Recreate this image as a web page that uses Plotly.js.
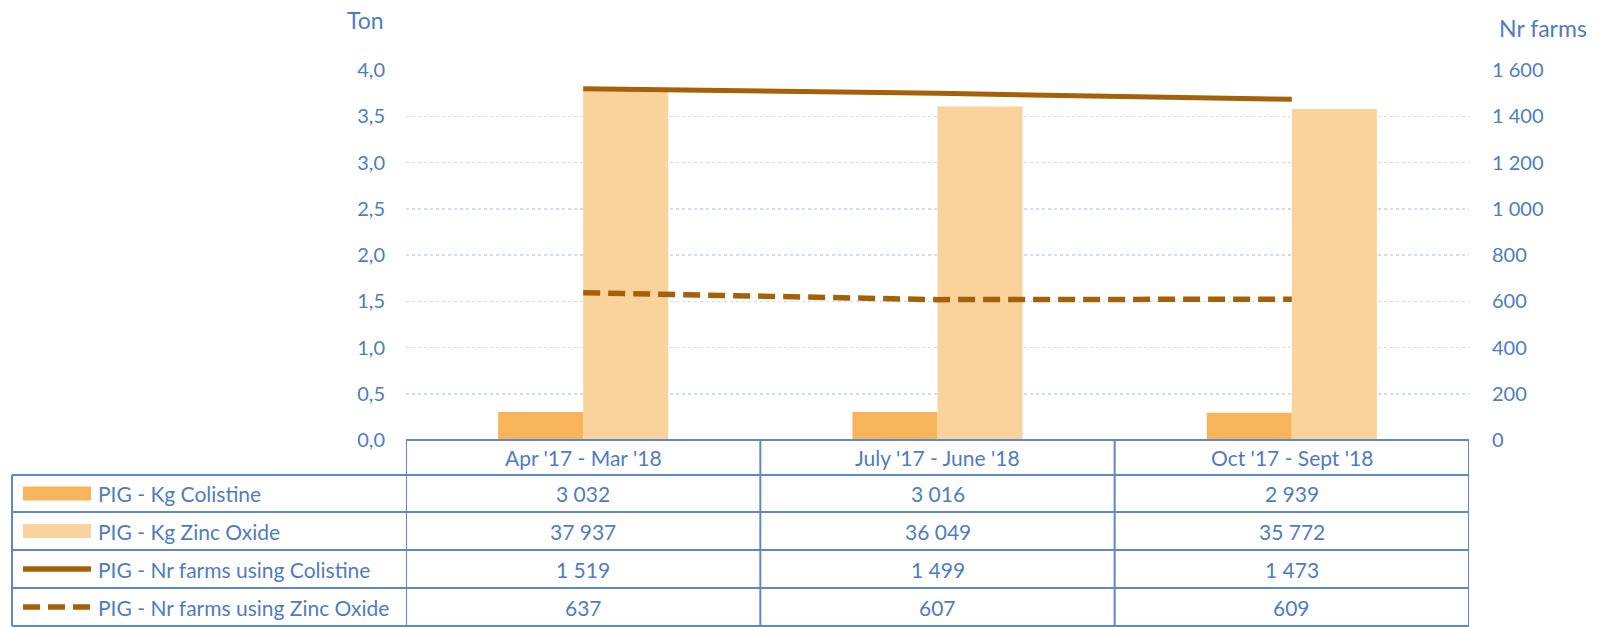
<!DOCTYPE html>
<html>
<head>
<meta charset="utf-8">
<script src="https://cdn.plot.ly/plotly-3.0.1.min.js"></script>
<style>
html,body{margin:0;padding:0;background:#fff;}
#chart{width:1598px;height:627px;}
</style>
</head>
<body>
<div id="chart"></div>
<script>
// ---- data ----
const categories = ["Apr '17 - Mar '18", "July '17 - June '18", "Oct '17 - Sept '18"];
const kgColistine = [3032, 3016, 2939];
const kgZincOxide = [37937, 36049, 35772];
const farmsColistine = [1519, 1499, 1473];
const farmsZincOxide = [637, 607, 609];
const seriesNames = ["PIG - Kg Colistine", "PIG - Kg Zinc Oxide", "PIG - Nr farms using Colistine", "PIG - Nr farms using Zinc Oxide"];
const leftTickVals = [0, 0.5, 1, 1.5, 2, 2.5, 3, 3.5, 4];
const rightTickVals = [0, 200, 400, 600, 800, 1000, 1200, 1400, 1600];
const KG_PER_AXIS_UNIT = 10000; // bar heights as drawn against the "Ton" axis

// ---- style ----
const W = 1598, H = 627;
const M = {l: 406, r: 129, t: 70, b: 187};
const PW = W - M.l - M.r, PH = H - M.t - M.b;
const blue = '#4F7CC1';
const border = '#5E88C8';
const cOrange = '#F8B45A';
const cPeach = '#FAD29C';
const cBrown = '#A5610A';
const FONT = 'Lato, "Open Sans", sans-serif';
const TFS = 21;

const xIdx = categories.map((_, i) => i);
function fmt(n){ return String(n).replace(/\B(?=(\d{3})+(?!\d))/g, ' '); }
function py(p){ return (M.t + PH - p) / PH; }   // pixel y -> paper y
function px(p){ return (p - M.l) / PW; }         // pixel x -> paper x

const traces = [
  {type:'bar', x:xIdx, y:kgColistine.map(v => v / KG_PER_AXIS_UNIT), name:seriesNames[0],
   marker:{color:cOrange}, yaxis:'y', offsetgroup:'a', hoverinfo:'skip'},
  {type:'bar', x:xIdx, y:kgZincOxide.map(v => v / KG_PER_AXIS_UNIT), name:seriesNames[1],
   marker:{color:cPeach}, yaxis:'y', offsetgroup:'b', hoverinfo:'skip'},
  {type:'scatter', mode:'lines', x:xIdx, y:farmsColistine, name:seriesNames[2], yaxis:'y2',
   line:{color:cBrown, width:5}, hoverinfo:'skip'},
  {type:'scatter', mode:'lines', x:xIdx, y:farmsZincOxide, name:seriesNames[3], yaxis:'y2',
   line:{color:cBrown, width:5.5, dash:'17px,8px'}, hoverinfo:'skip'}
];

// ---- data table (shapes + annotations) ----
const rowLines = [475, 512, 550, 588, 626];
const tableLeft = 12;
const shapes = [];
const annotations = [];
const lw = 2;
shapes.push({type:'line', xref:'x', yref:'paper', x0:-0.5, x1:2.5, y0:0, y1:0, line:{color:border, width:lw}});
rowLines.forEach(r => shapes.push({type:'line', xref:'paper', yref:'paper', x0:px(tableLeft), x1:px(M.l + PW), y0:py(r), y1:py(r), line:{color:border, width:lw}}));
[-0.5, 0.5, 1.5, 2.5].forEach(b => shapes.push({type:'line', xref:'x', yref:'paper', x0:b, x1:b, y0:0, y1:py(626), line:{color:border, width:lw}}));
shapes.push({type:'line', xref:'paper', yref:'paper', x0:px(tableLeft), x1:px(tableLeft), y0:py(475), y1:py(626), line:{color:border, width:lw}});

categories.forEach((c, i) => annotations.push({xref:'x', yref:'paper', x:i, y:py((440 + 475) / 2), text:c, showarrow:false,
  xanchor:'center', yanchor:'middle', font:{family:FONT, size:TFS, color:blue}}));

const rows = [kgColistine, kgZincOxide, farmsColistine, farmsZincOxide];
rows.forEach((vals, r) => {
  const top = rowLines[r], bot = rowLines[r + 1];
  const mid = (top + bot) / 2;
  vals.forEach((v, i) => annotations.push({xref:'x', yref:'paper', x:i, y:py(mid), text:fmt(v), showarrow:false,
    xanchor:'center', yanchor:'middle', font:{family:FONT, size:TFS, color:blue}}));
  annotations.push({xref:'paper', yref:'paper', x:px(96), y:py(mid), text:seriesNames[r], showarrow:false,
    xanchor:'left', yanchor:'middle', font:{family:FONT, size:TFS, color:blue}});
  if (r === 0 || r === 1) {
    shapes.push({type:'rect', xref:'paper', yref:'paper', x0:px(23), x1:px(91), y0:py(mid - 7), y1:py(mid + 7),
      fillcolor: r === 0 ? cOrange : cPeach, line:{width:0}});
  } else {
    shapes.push({type:'line', xref:'paper', yref:'paper', x0:px(23), x1:px(91), y0:py(mid), y1:py(mid),
      line:{color:cBrown, width:5.5, dash: r === 3 ? '17px,8px' : 'solid'}});
  }
});

annotations.push({xref:'paper', yref:'paper', x:px(386), y:py(20), text:'Ton', showarrow:false, xanchor:'right', yanchor:'middle',
  font:{family:FONT, size:23, color:blue}});
annotations.push({xref:'paper', yref:'paper', x:px(1497), y:py(28), text:'Nr farms', showarrow:false, xanchor:'left', yanchor:'middle',
  font:{family:FONT, size:23, color:blue}});

const layout = {
  width: W, height: H,
  margin: M,
  paper_bgcolor:'#fff', plot_bgcolor:'#fff',
  showlegend:false,
  separators: ', ',
  barmode:'group',
  bargap:0.52, bargroupgap:0,
  font:{family:FONT, color:blue},
  xaxis:{range:[-0.5, 2.5], showticklabels:false, showgrid:false, zeroline:false, showline:false, fixedrange:true},
  yaxis:{range:[0, 4], tickvals:leftTickVals, tickformat:'.1f', showgrid:true, gridcolor:'#D3DCEC', griddash:'dot', gridwidth:1.5,
    zeroline:false, showline:false, ticks:'', ticklabelstandoff:20, tickfont:{family:FONT, size:20, color:blue}},
  yaxis2:{range:[0, 1600], tickvals:rightTickVals, tickformat:',d', overlaying:'y', side:'right', showgrid:false,
    zeroline:false, showline:false, ticks:'', ticklabelstandoff:22, tickfont:{family:FONT, size:20, color:blue}},
  shapes: shapes,
  annotations: annotations
};

Plotly.newPlot('chart', traces, layout, {staticPlot:true});
</script>
</body>
</html>
